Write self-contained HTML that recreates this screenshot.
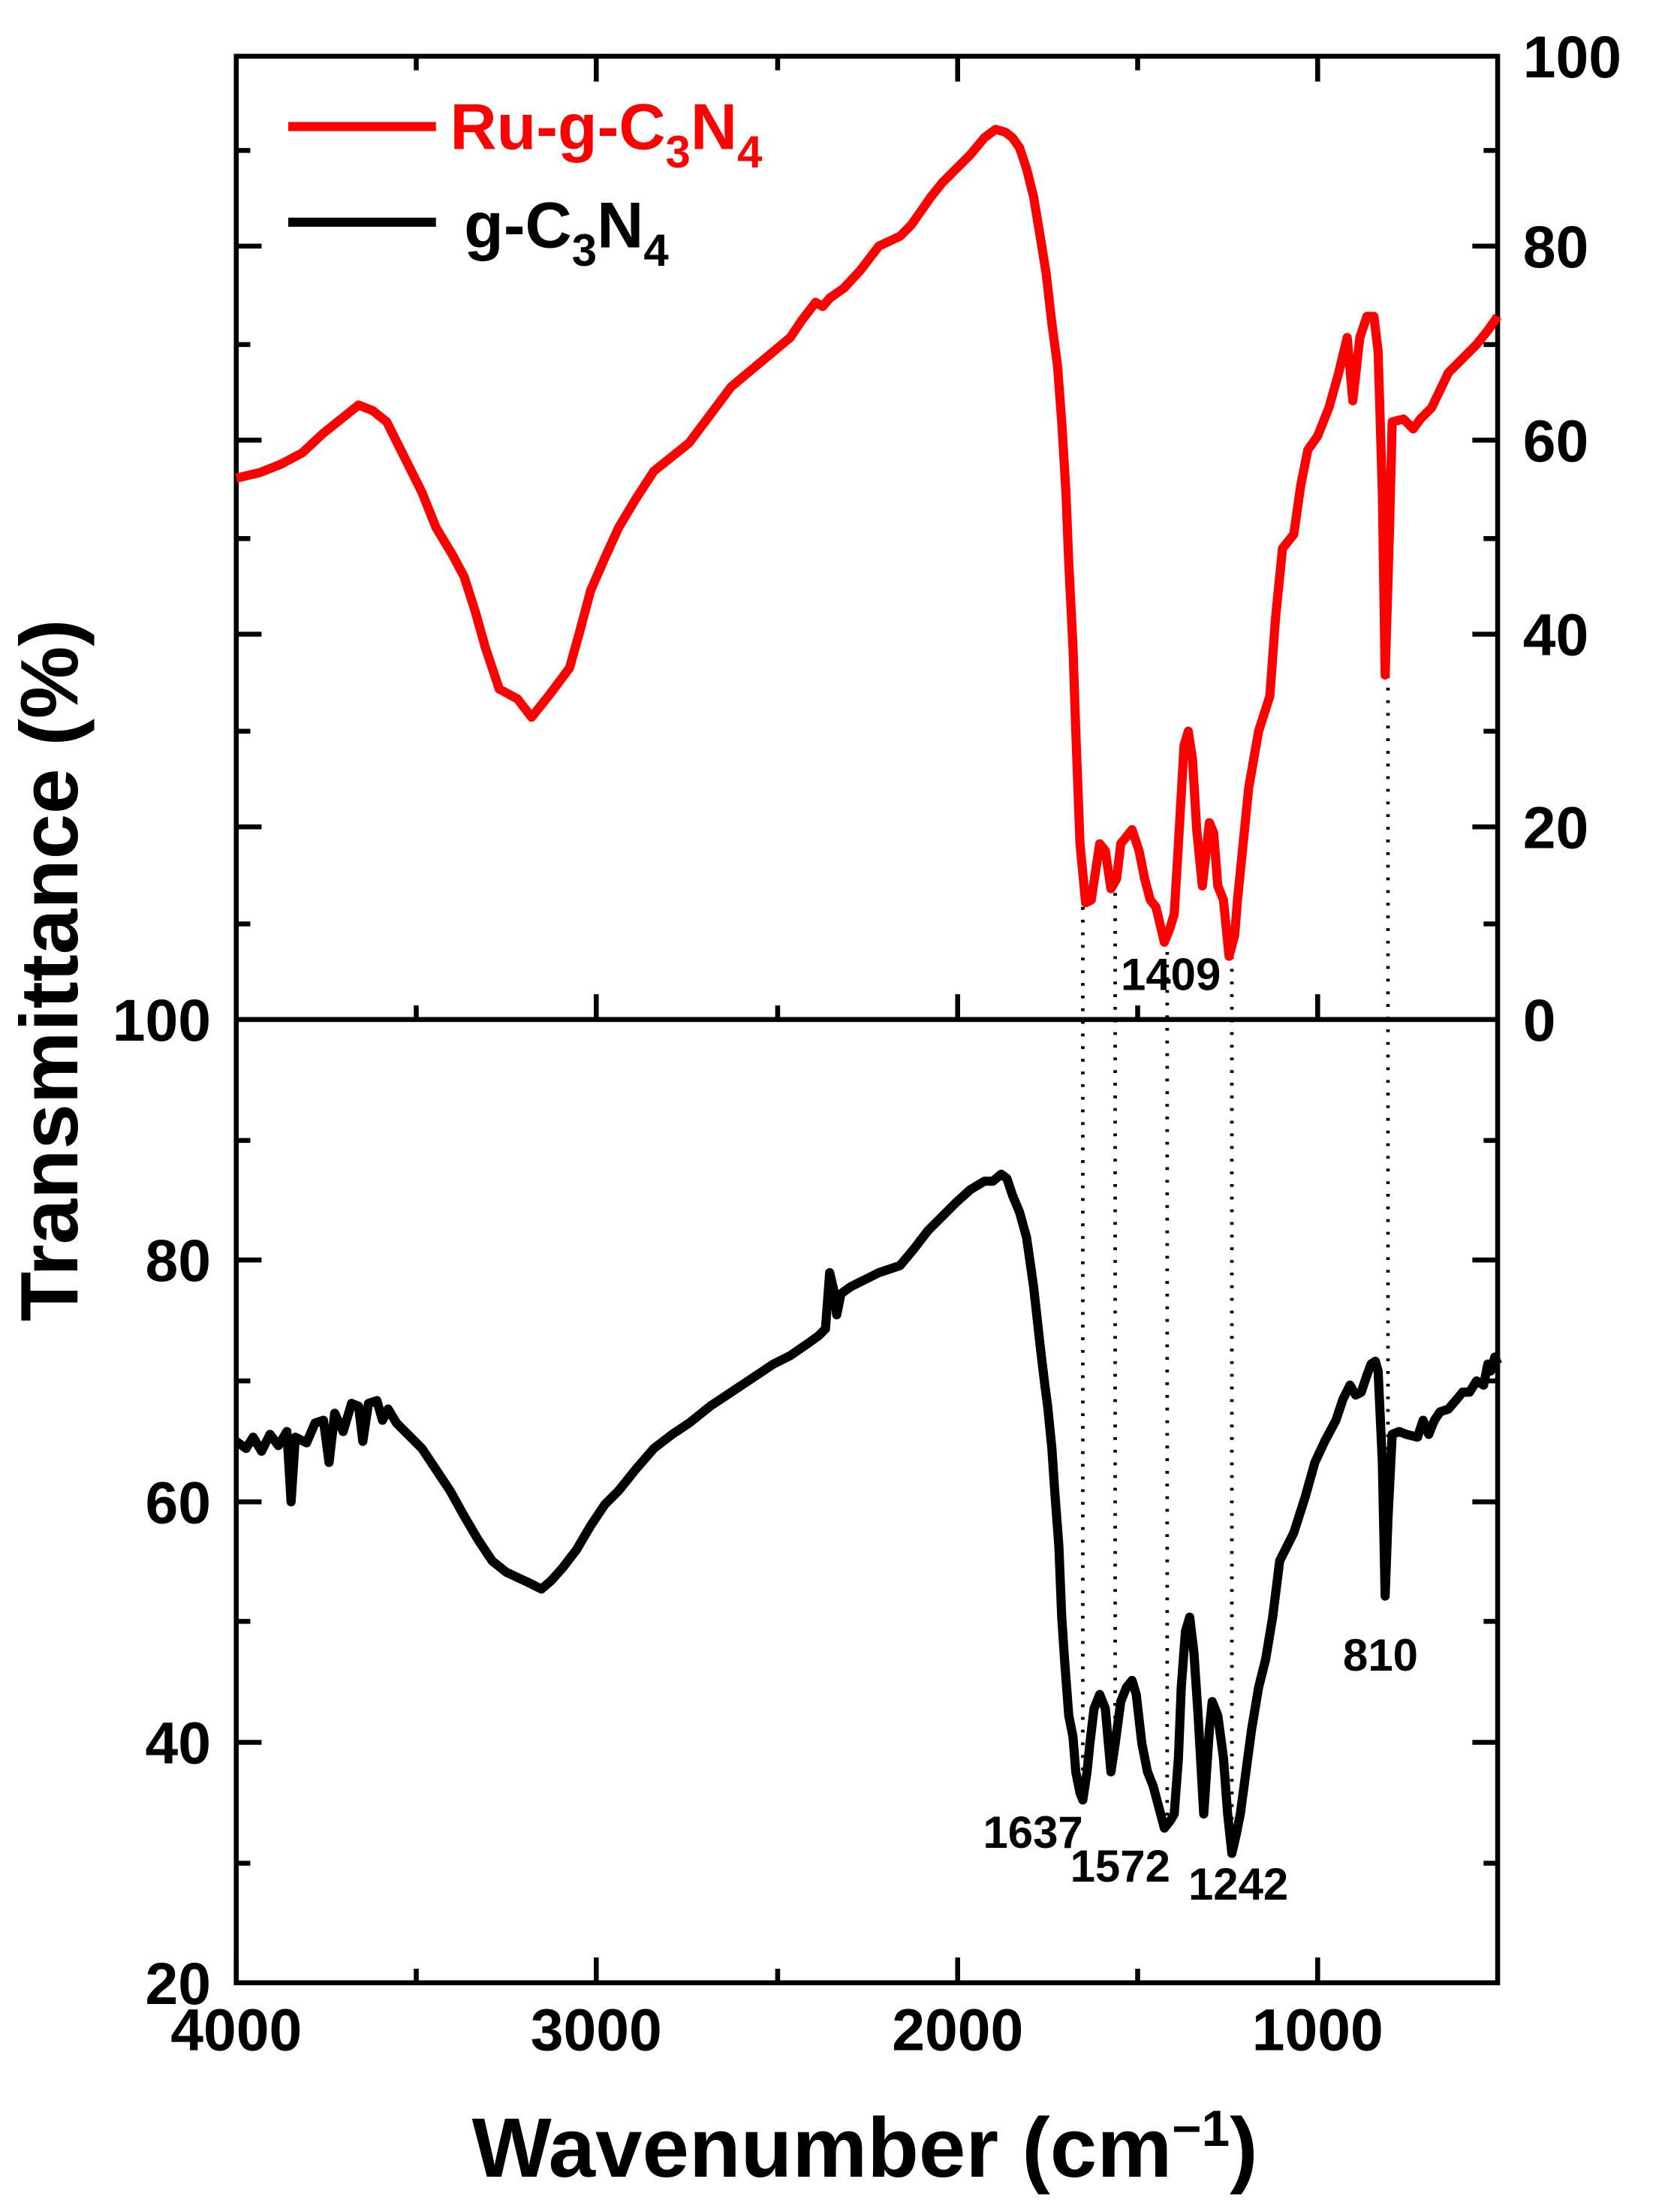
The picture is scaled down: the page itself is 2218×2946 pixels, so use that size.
<!DOCTYPE html>
<html><head><meta charset="utf-8"><style>
html,body{margin:0;padding:0;background:#fff}
svg{display:block}
text{font-family:"Liberation Sans",Arial,sans-serif;font-weight:bold}
</style></head><body>
<svg width="2218" height="2946" viewBox="0 0 1184 1573" preserveAspectRatio="none" xmlns="http://www.w3.org/2000/svg">
<rect width="1184" height="1573" fill="#fff"/>
<rect x="168" y="40" width="897" height="1370" fill="none" stroke="#000" stroke-width="3.5"/>
<line x1="168" y1="725" x2="1065" y2="725" stroke="#000" stroke-width="3.5"/>
<g stroke="#000" stroke-width="3.5">
<line x1="168" y1="1410" x2="168" y2="1392"/><line x1="424" y1="1410" x2="424" y2="1392"/><line x1="681" y1="1410" x2="681" y2="1392"/><line x1="937" y1="1410" x2="937" y2="1392"/>
<line x1="296" y1="1410" x2="296" y2="1400"/><line x1="553" y1="1410" x2="553" y2="1400"/><line x1="809" y1="1410" x2="809" y2="1400"/>
<line x1="424" y1="725" x2="424" y2="707"/><line x1="681" y1="725" x2="681" y2="707"/><line x1="937" y1="725" x2="937" y2="707"/>
<line x1="296" y1="725" x2="296" y2="715"/><line x1="553" y1="725" x2="553" y2="715"/><line x1="809" y1="725" x2="809" y2="715"/>
<line x1="424" y1="40" x2="424" y2="58"/><line x1="681" y1="40" x2="681" y2="58"/><line x1="937" y1="40" x2="937" y2="58"/>
<line x1="296" y1="40" x2="296" y2="50"/><line x1="553" y1="40" x2="553" y2="50"/><line x1="809" y1="40" x2="809" y2="50"/>
<line x1="168" y1="588" x2="186" y2="588"/><line x1="168" y1="451" x2="186" y2="451"/><line x1="168" y1="313" x2="186" y2="313"/><line x1="168" y1="175" x2="186" y2="175"/>
<line x1="168" y1="657" x2="178" y2="657"/><line x1="168" y1="520" x2="178" y2="520"/><line x1="168" y1="383" x2="178" y2="383"/><line x1="168" y1="245" x2="178" y2="245"/><line x1="168" y1="107" x2="178" y2="107"/>
<line x1="1065" y1="588" x2="1047" y2="588"/><line x1="1065" y1="451" x2="1047" y2="451"/><line x1="1065" y1="313" x2="1047" y2="313"/><line x1="1065" y1="175" x2="1047" y2="175"/>
<line x1="1065" y1="657" x2="1055" y2="657"/><line x1="1065" y1="520" x2="1055" y2="520"/><line x1="1065" y1="383" x2="1055" y2="383"/><line x1="1065" y1="245" x2="1055" y2="245"/><line x1="1065" y1="107" x2="1055" y2="107"/>
<line x1="168" y1="1239" x2="186" y2="1239"/><line x1="168" y1="1068" x2="186" y2="1068"/><line x1="168" y1="896" x2="186" y2="896"/>
<line x1="168" y1="1325" x2="178" y2="1325"/><line x1="168" y1="1153" x2="178" y2="1153"/><line x1="168" y1="982" x2="178" y2="982"/><line x1="168" y1="811" x2="178" y2="811"/>
<line x1="1065" y1="1239" x2="1047" y2="1239"/><line x1="1065" y1="1068" x2="1047" y2="1068"/><line x1="1065" y1="896" x2="1047" y2="896"/>
<line x1="1065" y1="1325" x2="1055" y2="1325"/><line x1="1065" y1="1153" x2="1055" y2="1153"/><line x1="1065" y1="982" x2="1055" y2="982"/><line x1="1065" y1="811" x2="1055" y2="811"/>
</g>
<g font-size="42" text-anchor="middle">
<text x="168" y="1458">4000</text><text x="424" y="1458">3000</text><text x="681" y="1458">2000</text><text x="937" y="1458">1000</text>
</g>
<g font-size="42" text-anchor="start">
<text x="1083" y="55">100</text><text x="1083" y="190">80</text><text x="1083" y="328">60</text><text x="1083" y="466">40</text><text x="1083" y="603">20</text><text x="1083" y="740">0</text>
</g>
<g font-size="42" text-anchor="end">
<text x="150" y="740">100</text><text x="150" y="911">80</text><text x="150" y="1083">60</text><text x="150" y="1254">40</text><text x="150" y="1425">20</text>
</g>
<text x="0" y="0" font-size="58" text-anchor="middle" transform="translate(55,690) rotate(-90)">Transmittance (%)</text>
<text x="615" y="1548" font-size="60" text-anchor="middle">Wavenumber (cm<tspan dy="-22" font-size="36">−1</tspan><tspan dy="22">)</tspan></text>
<g stroke="#000" stroke-width="2.5" stroke-dasharray="2,7" fill="none">
<line x1="770" y1="645" x2="770" y2="1275"/><line x1="793" y1="635" x2="793" y2="1255"/><line x1="830" y1="668" x2="830" y2="1298"/><line x1="876" y1="680" x2="876" y2="1312"/><line x1="987" y1="480" x2="987" y2="1135"/>
</g>
<polyline fill="none" stroke="#ff0000" stroke-width="6.5" stroke-linejoin="round" points="168,340 185,336 200,330 215,322 230,308 245,296 255,288 265,292 275,300 290,330 300,350 310,375 322,395 330,410 338,435 345,460 355,490 368,497 378,510 390,495 405,475 412,450 420,420 430,397 440,375 452,355 465,335 490,315 505,295 520,275 550,250 562,240 570,228 580,215 585,218 590,212 600,205 612,192 625,175 640,168 648,160 655,150 662,140 670,130 680,120 690,110 700,98 708,92 715,94 720,98 725,105 730,120 735,140 740,170 744,195 748,230 752,260 755,300 758,350 760,400 763,460 765,520 768,600 772,642 776,640 782,600 786,605 790,632 794,625 797,600 805,590 810,605 814,625 818,640 822,645 828,670 832,660 835,650 838,600 842,530 845,520 848,540 851,590 855,630 860,585 863,592 866,630 870,640 874,680 878,665 880,640 884,600 888,560 895,520 903,495 907,440 912,390 920,380 925,345 930,320 937,310 945,290 952,265 958,240 962,285 967,240 972,225 977,225 980,250 983,350 985,480 988,380 990,300 998,298 1005,305 1010,298 1018,290 1030,265 1040,255 1050,245 1058,235 1065,225"/>
<polyline fill="none" stroke="#000" stroke-width="6.5" stroke-linejoin="round" points="168,1025 175,1030 180,1022 186,1032 192,1020 198,1028 204,1018 207,1068 210,1022 218,1026 224,1012 230,1010 234,1040 238,1005 244,1018 250,998 255,1000 258,1025 262,998 268,996 272,1010 276,1002 282,1012 290,1020 300,1030 310,1045 320,1060 330,1078 340,1095 350,1110 360,1118 375,1125 385,1130 392,1124 400,1115 410,1102 420,1085 430,1070 440,1060 452,1045 465,1030 478,1020 490,1012 505,1000 520,990 535,980 550,970 562,964 575,955 582,950 587,945 590,905 593,918 595,935 598,920 605,915 615,910 625,905 640,900 650,888 660,875 670,865 680,855 690,846 700,840 706,840 712,835 716,838 720,850 725,862 730,880 735,915 740,960 743,985 745,1000 748,1030 750,1060 753,1100 755,1150 757,1180 760,1220 763,1235 765,1260 768,1275 770,1280 773,1260 775,1240 778,1215 782,1205 786,1215 790,1260 793,1240 797,1210 801,1200 805,1195 808,1205 812,1240 816,1260 820,1270 824,1285 828,1300 832,1295 835,1290 838,1250 840,1200 843,1160 846,1150 849,1175 852,1220 856,1290 860,1230 862,1210 866,1220 870,1250 873,1290 876,1318 879,1305 882,1290 886,1260 890,1230 895,1200 900,1180 905,1150 910,1110 915,1100 920,1090 928,1065 935,1040 942,1025 950,1010 955,995 960,985 964,992 968,990 972,978 975,970 978,968 980,975 983,1040 985,1135 987,1080 990,1020 995,1018 1000,1020 1008,1022 1012,1010 1016,1020 1020,1010 1024,1004 1030,1002 1036,995 1040,990 1045,990 1050,982 1055,985 1058,970 1060,975 1063,965 1065,970"/>
<line x1="205" y1="90" x2="310" y2="90" stroke="#ff0000" stroke-width="6.5"/>
<text x="320" y="106" font-size="46" fill="#ff0000">Ru-g-C<tspan dy="13" font-size="32">3</tspan><tspan dy="-13">N</tspan><tspan dy="13" font-size="32">4</tspan></text>
<line x1="205" y1="158" x2="310" y2="158" stroke="#000" stroke-width="6.5"/>
<text x="330" y="176" font-size="46">g-C<tspan dy="13" font-size="32">3</tspan><tspan dy="-13">N</tspan><tspan dy="13" font-size="32">4</tspan></text>
<g font-size="32">
<text x="797" y="704">1409</text>
<text x="699" y="1314">1637</text>
<text x="761" y="1338">1572</text>
<text x="845" y="1351">1242</text>
<text x="955" y="1188">810</text>
</g>
</svg>
</body></html>
